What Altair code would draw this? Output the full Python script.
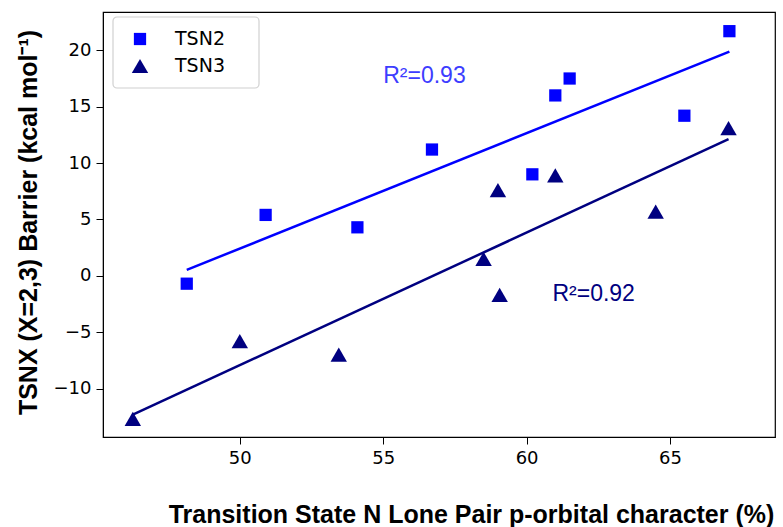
import altair as alt
import pandas as pd

series_names = ["TSN2", "TSN3"]
pct_tsn2 = [48.15, 50.9, 54.1, 56.7, 60.2, 61.0, 61.5, 65.5, 67.07]
barrier_tsn2 = [-0.7, 5.4, 4.3, 11.2, 9.0, 16.0, 17.5, 14.2, 21.7]
pct_tsn3 = [46.27, 50.0, 53.45, 58.5, 59.0, 59.06, 61.0, 64.5, 67.04]
barrier_tsn3 = [-12.7, -5.8, -7.0, 1.5, 7.6, -1.7, 8.9, 5.7, 13.1]
r2_labels = ["R²=0.93", "R²=0.92"]

x_ticks = [50, 55, 60, 65]
y_ticks = [-10, -5, 0, 5, 10, 15, 20]

colors = ["#0000ff", "#000080"]
shapes = ["square", "triangle-up"]
sizes = [150, 270]
label_colors = ["#3d3dff", "#000080"]

df = pd.DataFrame({
    "pct": pct_tsn2 + pct_tsn3,
    "barrier": barrier_tsn2 + barrier_tsn3,
    "series": [series_names[0]] * len(pct_tsn2) + [series_names[1]] * len(pct_tsn3),
})

ann = pd.DataFrame({
    "label": r2_labels,
    "x": [55.0, 60.9],
    "y": [17.75, -1.6],
    "color": label_colors,
})

xscale = alt.Scale(domain=[45.23, 68.66], nice=False, zero=False)
yscale = alt.Scale(domain=[-14.3, 23.4], nice=False, zero=False)

xaxis = alt.Axis(
    values=x_ticks, title="Transition State N Lone Pair p-orbital character (%)",
    grid=False, titleFont="Liberation Sans", titleFontWeight="bold", titleFontSize=25,
    titleColor="black", titleX=368, titleY=85, titleAlign="center",
    titleBaseline="alphabetic", labelFont="DejaVu Sans", labelFontSize=18,
    labelColor="black", labelPadding=5, tickColor="black", tickSize=7,
    domainColor="black", labelFlush=False,
)
yaxis = alt.Axis(
    values=y_ticks, title="TSNX (X=2,3) Barrier (kcal mol⁻¹)",
    grid=False, titleFont="Liberation Sans", titleFontWeight="bold", titleFontSize=25,
    titleColor="black", titleX=-67, titleY=210, titleAlign="center", titleAngle=270,
    titleBaseline="alphabetic", labelFont="DejaVu Sans", labelFontSize=18,
    labelColor="black", labelPadding=5, tickColor="black", tickSize=7,
    domainColor="black", labelFlush=False,
    labelExpr="(datum.value < 0 ? '\u2212' : '') + format(abs(datum.value), 'd')",
)

points = alt.Chart(df).mark_point(filled=True, opacity=1).encode(
    x=alt.X("pct:Q", scale=xscale, axis=xaxis),
    y=alt.Y("barrier:Q", scale=yscale, axis=yaxis),
    color=alt.Color("series:N", scale=alt.Scale(domain=series_names, range=colors), legend=None),
    shape=alt.Shape("series:N", scale=alt.Scale(domain=series_names, range=shapes), legend=None),
    size=alt.Size("series:N", scale=alt.Scale(domain=series_names, range=sizes), legend=None),
)

lines = []
for name, col in zip(series_names, colors):
    lines.append(
        alt.Chart(df).transform_filter(alt.datum.series == name)
        .transform_regression("pct", "barrier")
        .mark_line(color=col, strokeWidth=2.5)
        .encode(x=alt.X("pct:Q", scale=xscale), y=alt.Y("barrier:Q", scale=yscale))
    )

texts = alt.Chart(ann).mark_text(
    font="Liberation Sans", fontSize=23, align="left", baseline="middle"
).encode(
    x=alt.X("x:Q", scale=xscale),
    y=alt.Y("y:Q", scale=yscale),
    text="label:N",
    color=alt.Color("color:N", scale=None),
)

# legend box drawn inside the plot (upper left)
leg_df = pd.DataFrame({"series": series_names})
legend_box = alt.Chart(leg_df).transform_filter(alt.datum.series == series_names[0]).mark_rect(
    fill="white", stroke="#cccccc", strokeWidth=1.2, cornerRadius=4, opacity=0.9
).encode(x=alt.value(10), x2=alt.value(156), y=alt.value(5), y2=alt.value(76))

legend_layers = [legend_box]
for i, name in enumerate(series_names):
    row_y = 27 + 27 * i
    legend_layers.append(
        alt.Chart(leg_df).transform_filter(alt.datum.series == name).mark_point(
            filled=True, opacity=1, shape=shapes[i], size=sizes[i], color=colors[i]
        ).encode(x=alt.value(37), y=alt.value(row_y))
    )
    legend_layers.append(
        alt.Chart(leg_df).transform_filter(alt.datum.series == name).mark_text(
            font="DejaVu Sans", fontSize=19, align="left", baseline="middle", color="black"
        ).encode(x=alt.value(72), y=alt.value(row_y), text="series:N")
    )

chart = alt.layer(*lines, points, texts, *legend_layers).properties(
    width=672, height=425,
    autosize=alt.AutoSizeParams(type="none"),
    padding={"left": 103, "top": 12, "right": 8, "bottom": 90},
    background="white",
).configure_view(stroke="black", strokeWidth=1.2)

chart.save("out.html", embed_options={"renderer": "svg", "actions": False})
